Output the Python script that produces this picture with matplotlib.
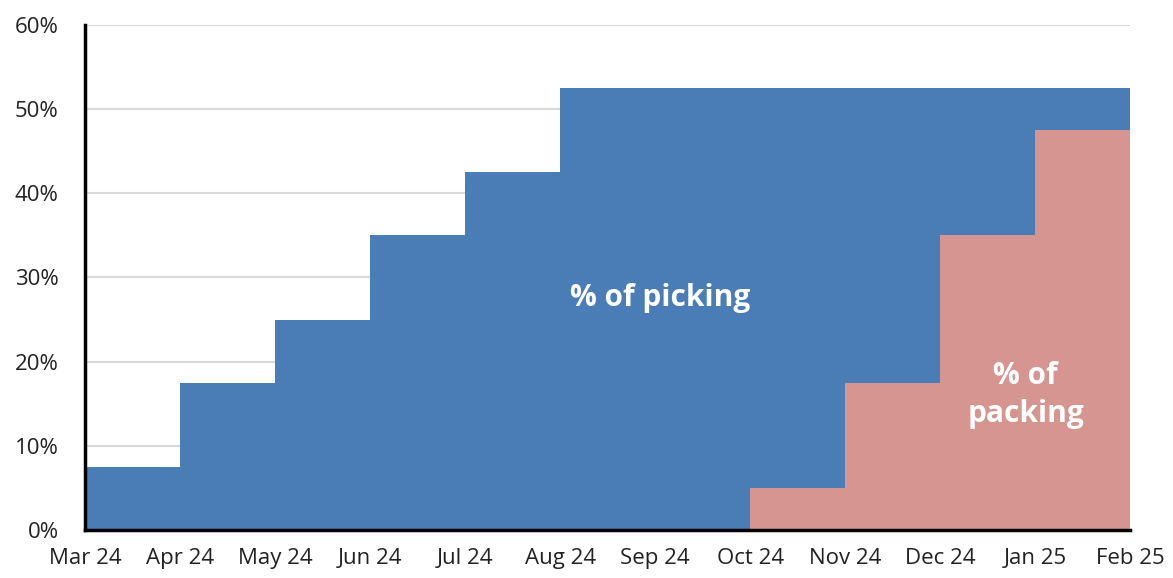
import numpy as np
import matplotlib.pyplot as plt

months = ['Mar 24', 'Apr 24', 'May 24', 'Jun 24', 'Jul 24', 'Aug 24',
          'Sep 24', 'Oct 24', 'Nov 24', 'Dec 24', 'Jan 25', 'Feb 25']
# valeur sur chaque intervalle mois -> mois suivant
picking = [7.5, 17.5, 25, 35, 42.5, 52.5, 52.5, 52.5, 52.5, 52.5, 52.5]
packing = [0, 0, 0, 0, 0, 0, 0, 5, 17.5, 35, 47.5]

plt.rcParams['font.family'] = ['Open Sans', 'DejaVu Sans']

x = np.arange(len(months))
pick = np.append(picking, picking[-1]) / 100
pack = np.append(packing, packing[-1]) / 100

fig = plt.figure(figsize=(11.73, 5.78), dpi=100)
ax = fig.add_axes([0.0725, 0.083, 0.891, 0.874])

ax.fill_between(x, 0, pick, step='post', color='#4A7DB6', linewidth=0, zorder=2)
ax.fill_between(x[7:], 0, pack[7:], step='post', color='#D69591', linewidth=0, zorder=3)

ax.set_xlim(0, len(months) - 1)
ax.set_ylim(0, 0.6)
ax.set_yticks(np.arange(0, 0.61, 0.1))
ax.set_yticklabels(['%d%%' % v for v in range(0, 61, 10)])
ax.set_xticks(x)
ax.set_xticklabels(months)
ax.tick_params(axis='both', length=0, labelsize=16, colors='#222222')
ax.tick_params(axis='x', pad=13)
ax.tick_params(axis='y', pad=19)
ax.grid(axis='y', color='#D9D9D9', linewidth=1.5, zorder=1)
ax.set_axisbelow(True)

for s in ['top', 'right']:
    ax.spines[s].set_visible(False)
for s in ['left', 'bottom']:
    ax.spines[s].set_linewidth(2.5)
    ax.spines[s].set_color('black')
    ax.spines[s].set_zorder(5)

ax.text(6.05, 0.275, '% of picking', color='white', fontsize=21.5,
        fontweight='bold', ha='center', va='center', zorder=6)
ax.text(9.9, 0.16, '% of\npacking', color='white', fontsize=21.5,
        fontweight='bold', ha='center', va='center', linespacing=1.35, zorder=6)

plt.savefig('out.png', dpi=100)
